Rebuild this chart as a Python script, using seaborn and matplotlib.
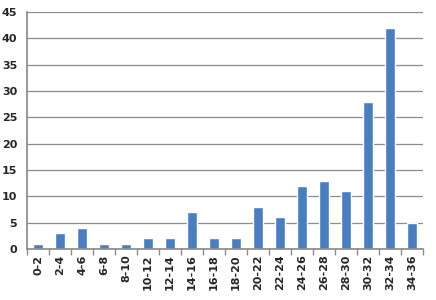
import matplotlib
matplotlib.use("Agg")
import matplotlib.pyplot as plt
import seaborn as sns
import pandas as pd

categories = ["0-2", "2-4", "4-6", "6-8", "8-10", "10-12", "12-14", "14-16", "16-18",
              "18-20", "20-22", "22-24", "24-26", "26-28", "28-30", "30-32", "32-34", "34-36"]
values = [1, 3, 4, 1, 1, 2, 2, 7, 2, 2, 8, 6, 12, 13, 11, 28, 42, 5]
yticks = [0, 5, 10, 15, 20, 25, 30, 35, 40, 45]

df = pd.DataFrame({"cat": categories, "val": values})

sns.set_theme(style="white")
plt.rcParams['font.family'] = ['DejaVu Sans']

fig = plt.figure(figsize=(4.36, 3.0), dpi=100)
ax = fig.add_axes([0.062, 0.17, 0.908, 0.79])
sns.barplot(data=df, x="cat", y="val", color="#4a7ebf", width=0.45, ax=ax, saturation=1)

ax.set_ylim(0, 45)
ax.set_yticks(yticks)
ax.set_xlim(-0.5, len(categories) - 0.5)
ax.yaxis.grid(True, color="#8c8c8c", linewidth=0.9)
ax.set_axisbelow(True)
ax.set_xlabel("")
ax.set_ylabel("")
for s in ["top", "right"]:
    ax.spines[s].set_visible(False)
ax.spines["left"].set_color("#8c8c8c")
ax.spines["bottom"].set_color("#8c8c8c")

ax.set_xticks([i for i in range(len(categories))])
ax.set_xticklabels(categories, rotation=90, fontsize=8, fontweight="bold")
ax.tick_params(axis="x", length=0, pad=4)
ax.tick_params(axis="y", length=3, color="#8c8c8c", labelsize=8, pad=4)
for lab in ax.get_yticklabels():
    lab.set_fontweight("bold")
# tick marks between categories
ax.set_xticks([i + 0.5 for i in range(-1, len(categories))], minor=True)
ax.tick_params(axis="x", which="minor", length=4, color="#8c8c8c", direction="out")
ax.tick_params(axis="x", which="major", bottom=False)
ax.xaxis.set_tick_params(which="minor", bottom=True)

fig.savefig("out.png", dpi=100)
